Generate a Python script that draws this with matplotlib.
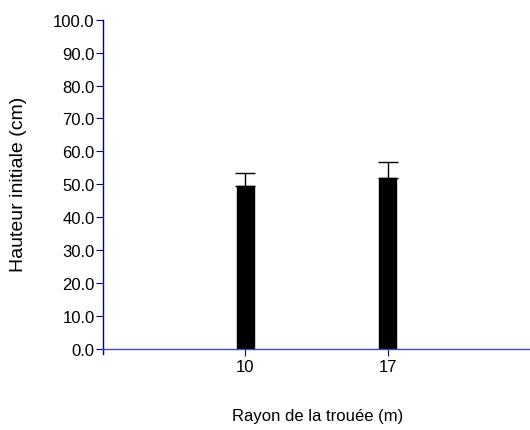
import matplotlib
matplotlib.use("Agg")
import matplotlib.pyplot as plt
from matplotlib.ticker import FormatStrFormatter

plt.rcParams["font.family"] = ["Liberation Sans", "DejaVu Sans"]

# data
radius_labels = ["10", "17"]
heights = [49.6, 51.8]
errors_up = [3.8, 4.9]
y_ticks = [0, 10, 20, 30, 40, 50, 60, 70, 80, 90, 100]

navy = "#000080"
axis_blue = "#4848b0"

fig = plt.figure(figsize=(5.30, 4.31), dpi=100)
ax = fig.add_axes([103 / 530, 1 - 350 / 431, 1 - 103 / 530, (350 - 20.7) / 431])

positions = [1, 2]
ax.bar(positions, heights, width=0.12, color="black", edgecolor="black", zorder=2)
ax.errorbar(
    positions,
    heights,
    yerr=[[0, 0], errors_up],
    fmt="none",
    ecolor="black",
    elinewidth=1.0,
    capsize=7,
    capthick=1.0,
    zorder=1,
)

ax.set_xlim(0, 3)
ax.set_ylim(0, 100)
ax.set_xticks(positions)
ax.set_xticklabels(radius_labels)
ax.set_yticks(y_ticks)
ax.yaxis.set_major_formatter(FormatStrFormatter("%.1f"))

for side in ("top", "right"):
    ax.spines[side].set_visible(False)
ax.spines["left"].set_color(navy)
ax.spines["left"].set_bounds(-1.5, 100)
ax.spines["bottom"].set_color(axis_blue)
ax.spines["left"].set_linewidth(1.0)
ax.spines["bottom"].set_linewidth(1.0)
ax.tick_params(axis="y", direction="out", length=5, color=navy, labelsize=12, pad=1)
ax.tick_params(axis="x", direction="out", length=5, color=navy, labelsize=12, pad=2)

fig.text(19 / 530, 1 - 184 / 431, "Hauteur initiale (cm)", rotation=90,
         ha="center", va="center", fontsize=14)
fig.text(318 / 530, 1 - 417 / 431, "Rayon de la trouée (m)",
         ha="center", va="center", fontsize=12)

fig.savefig("out.png", dpi=100)
